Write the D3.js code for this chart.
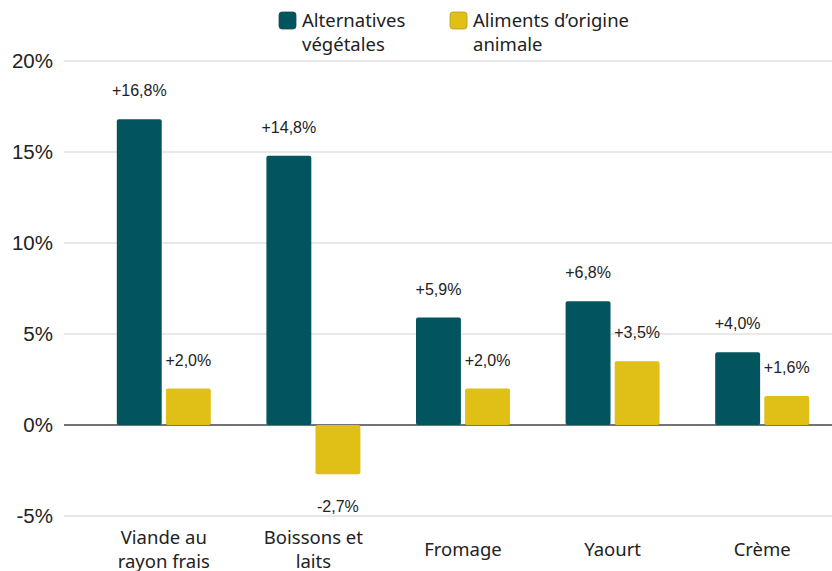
<!DOCTYPE html>
<html>
<head>
<meta charset="utf-8">
<script src="https://cdn.jsdelivr.net/npm/d3@7"></script>
<style>
  body { margin: 0; background: #fff; }
  svg { display: block; }
</style>
</head>
<body>
<div id="chart"></div>
<script>
// Data
const categories = [['Viande au', 'rayon frais'], ['Boissons et', 'laits'], ['Fromage'], ['Yaourt'], ['Crème']];
const seriesNames = [['Alternatives', 'végétales'], ['Aliments d\u2019origine', 'animale']];
const vegetal = [16.8, 14.8, 5.9, 6.8, 4.0];
const animal = [2.0, -2.7, 2.0, 3.5, 1.6];
const yTicks = [-5, 0, 5, 10, 15, 20];
const colors = ['#02545e', '#e0bf17'];

const width = 832, height = 571;
const margin = { left: 64, right: 0 };

const svg = d3.select('#chart').append('svg')
    .attr('width', width)
    .attr('height', height);

const y = d3.scaleLinear().domain([-5, 20]).range([516, 61]);

const x0 = d3.scaleBand()
    .domain(d3.range(categories.length))
    .range([89, 837])
    .padding(0);

const x1 = d3.scaleBand()
    .domain([0, 1])
    .range([0, 94])
    .paddingInner(0.085);

// Grid lines + y tick labels
const grid = svg.append('g');
yTicks.forEach(t => {
    grid.append('line')
        .attr('x1', margin.left).attr('x2', width)
        .attr('y1', y(t)).attr('y2', y(t))
        .attr('stroke', t === 0 ? '#444' : '#d3d3d3')
        .attr('stroke-width', t === 0 ? 1.3 : 1.2);
    grid.append('text')
        .attr('x', 53)
        .attr('y', y(t))
        .attr('dy', '0.35em')
        .attr('text-anchor', 'end')
        .attr('font-family', '"Liberation Sans", Arial, sans-serif')
        .attr('font-size', 20.5)
        .attr('fill', '#222')
        .text(t + '%');
});

// Bars
const fmt = v => (v > 0 ? '+' : '') + v.toFixed(1).replace('.', ',') + '%';
const series = [vegetal, animal];

series.forEach((vals, s) => {
    const g = svg.append('g');
    vals.forEach((v, i) => {
        const bx = x0(i) + x0.bandwidth() / 2 - 47 + x1(s);
        g.append('rect')
            .attr('x', bx)
            .attr('y', y(Math.max(0, v)))
            .attr('width', x1.bandwidth())
            .attr('height', Math.abs(y(v) - y(0)))
            .attr('rx', 2)
            .attr('fill', colors[s]);
        g.append('text')
            .attr('x', bx + x1.bandwidth() / 2)
            .attr('y', v >= 0 ? y(v) - 23 : y(v) + 38)
            .attr('text-anchor', 'middle')
            .attr('font-family', '"Liberation Sans", Arial, sans-serif')
            .attr('font-size', 16)
            .attr('fill', '#222')
            .text(fmt(v));
    });
});

// Category labels
categories.forEach((lines, i) => {
    const cx = x0(i) + x0.bandwidth() / 2;
    const t = svg.append('text')
        .attr('text-anchor', 'middle')
        .attr('font-family', '"Noto Sans", sans-serif')
        .attr('font-size', 18.5)
        .attr('fill', '#222');
    lines.forEach((ln, k) => {
        t.append('tspan')
            .attr('x', cx)
            .attr('y', 555.5 + (k - (lines.length - 1) / 2) * 24)
            .text(ln);
    });
});

// Legend
const legendX = [279, 450];
seriesNames.forEach((lines, s) => {
    const lg = svg.append('g').attr('transform', `translate(${legendX[s]},12)`);
    lg.append('rect')
        .attr('width', 17).attr('height', 17)
        .attr('rx', 3)
        .attr('fill', colors[s])
        .attr('stroke', s === 0 ? '#1b4a4f' : '#b89d14')
        .attr('stroke-width', 0.8);
    const t = lg.append('text')
        .attr('font-family', '"Noto Sans", sans-serif')
        .attr('font-size', 18.5)
        .attr('fill', '#222');
    lines.forEach((ln, k) => {
        t.append('tspan')
            .attr('x', 23)
            .attr('y', 15 + k * 24)
            .text(ln);
    });
});
</script>
</body>
</html>
